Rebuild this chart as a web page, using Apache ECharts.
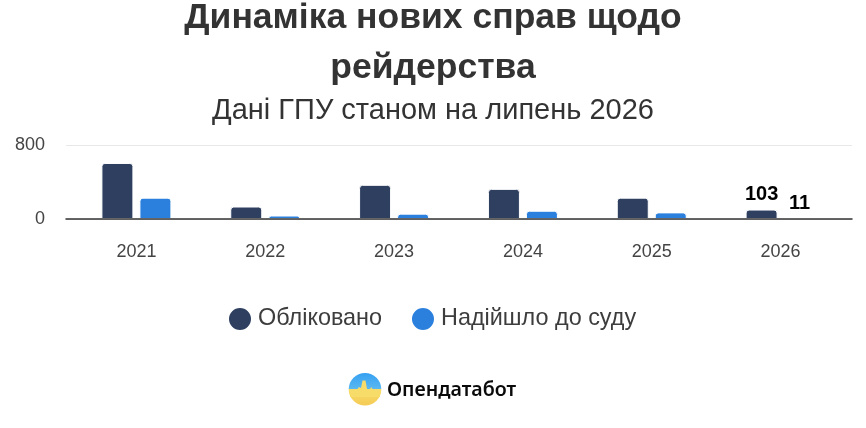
<!DOCTYPE html>
<html><head><meta charset="utf-8">
<style>html,body{margin:0;padding:0;background:#fff}#c{width:866px;height:428px}</style>
<script src="https://cdn.jsdelivr.net/npm/echarts@6/dist/echarts.min.js"></script>
</head><body><div id="c"></div>
<script>
const years = ['2021','2022','2023','2024','2025','2026'];
const registered = [610,136,372,328,232,103];
const toCourt = [232,38,58,90,72,11];
const yTicks = [0,800];
const FONT = '"Liberation Sans", Arial, sans-serif';
const chart = echarts.init(document.getElementById('c'), null, {renderer:'canvas'});
const lastLabel = (v, i) => i === years.length-1 ? {value:v, label:{show:true, position:'top', distance:5, formatter:'{c}', fontFamily:FONT, fontSize:20, fontWeight:'bold', color:'#000'}} : v;
chart.setOption({
  animation:false,
  backgroundColor:'#fff',
  title:[
    {text:'Динаміка нових справ щодо', left:'center', top:-5,
     textStyle:{fontFamily:FONT, fontSize:35.5, fontWeight:'bold', color:'#333'}},
    {text:'рейдерства', left:'center', top:45,
     textStyle:{fontFamily:FONT, fontSize:35.5, fontWeight:'bold', color:'#333'}},
    {text:'Дані ГПУ станом на липень 2026', left:'center', top:91,
     textStyle:{fontFamily:FONT, fontSize:29, fontWeight:'normal', color:'#333'}}
  ],
  legend:{left:227, top:306, padding:0, itemWidth:24, itemHeight:24, itemGap:28, icon:'circle',
    data:['Обліковано','Надійшло до суду'],
    textStyle:{fontFamily:FONT, fontSize:23.4, color:'#3d3d3d', padding:[1,0,0,1]}},
  grid:[
    {left:72, width:773, top:145.5, height:73.5},
    {left:66, width:786, top:145.5, height:73.5}
  ],
  xAxis:[
    {type:'category', gridIndex:0, data:years, axisLine:{show:false}, axisTick:{show:false},
     axisLabel:{margin:24, fontFamily:FONT, fontSize:18, color:'#444'}},
    {type:'category', gridIndex:1, data:years, z:5, axisLine:{show:true, lineStyle:{color:'#333', width:1.5}}, axisTick:{show:false}, axisLabel:{show:false}}
  ],
  yAxis:[
    {type:'value', gridIndex:0, min:0, max:800, interval:800, splitLine:{show:false}, axisLine:{show:false}, axisTick:{show:false}, axisLabel:{show:false}},
    {type:'value', gridIndex:1, min:0, max:800, interval:800, splitLine:{lineStyle:{color:'#e8e8e8', width:1}}, axisLine:{show:false}, axisTick:{show:false},
     axisLabel:{margin:21, padding:[3,0,0,0], fontFamily:FONT, fontSize:18, color:'#444', formatter:v=>yTicks.includes(v)?String(v):''}}
  ],
  series:[
    {name:'Обліковано', type:'bar', xAxisIndex:0, yAxisIndex:0, barWidth:32, barGap:'18.75%', z:2, itemStyle:{color:'#2e3f60', borderColor:'#fff', borderWidth:1, borderRadius:[3,3,0,0]}, data:registered.map(lastLabel)},
    {name:'Надійшло до суду', type:'bar', xAxisIndex:0, yAxisIndex:0, barWidth:32, barGap:'18.75%', z:2, itemStyle:{color:'#2b80de', borderColor:'#fff', borderWidth:1, borderRadius:[3,3,0,0]}, data:toCourt.map(lastLabel)},
    {type:'bar', xAxisIndex:1, yAxisIndex:1, data:[], silent:true}
  ],
  graphic:[
    {type:'circle', shape:{cx:365, cy:389.3, r:16.3}, style:{fill:new echarts.graphic.LinearGradient(0,0,0,1,[{offset:0,color:'#35a0f2'},{offset:0.5,color:'#5cb9f0'},{offset:0.5,color:'#f8dc6a'},{offset:1,color:'#f4cb55'}])}},
    {type:'polygon', shape:{points:[[350,389.5],[357,389.5],[359,387],[361,388],[362.5,380.5],[365.5,380.5],[367,389],[369,392],[371,387],[373,389.5],[380,389.5],[380,397],[350,397]]}, style:{fill:'#f8dc6a'}},
    {type:'text', style:{x:387, y:390.5, text:'Опендатабот', fontFamily:'"Noto Sans", sans-serif', fontSize:19.6, fontWeight:600, fill:'#0a0a0a', verticalAlign:'middle', align:'left'}}
  ]
});
</script></body></html>
